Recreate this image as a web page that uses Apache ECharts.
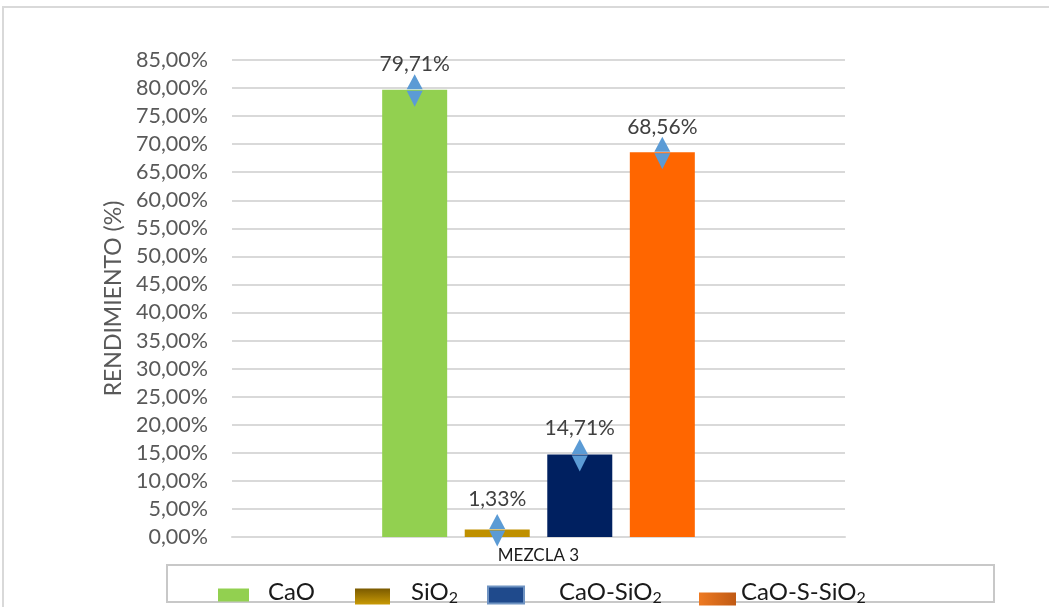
<!DOCTYPE html>
<html>
<head>
<meta charset="utf-8">
<script src="https://cdn.jsdelivr.net/npm/echarts@6/dist/echarts.min.js"></script>
<style>
  html, body { margin: 0; padding: 0; background: #ffffff; }
  #chart { width: 1049px; height: 607px; }
</style>
</head>
<body>
<div id="chart"></div>
<script>
// Rendimiento por fase, mezcla 3
const categories = ['MEZCLA 3'];
const seriesNames = ['CaO', 'SiO2', 'CaO-SiO2', 'CaO-S-SiO2'];
const valCaO = [79.71];
const valSiO2 = [1.33];
const valCaOSiO2 = [14.71];
const valCaOSSiO2 = [68.56];
const yTicks = { min: 0, max: 85, interval: 5 };

const seriesValues = [valCaO, valSiO2, valCaOSiO2, valCaOSSiO2];
const barColors = ['#92D050', '#BF9000', '#002060', '#FF6600'];
const labelDistance = [15, 20, 16, 15];
const legendIcons = [
  '#92D050',
  { type: 'linear', x: 0, y: 0, x2: 0, y2: 1, colorStops: [{ offset: 0, color: '#7A5A00' }, { offset: 1, color: '#C99A05' }] },
  '#1F4A8C',
  { type: 'linear', x: 0, y: 0, x2: 1, y2: 0, colorStops: [{ offset: 0, color: '#EE7A22' }, { offset: 1, color: '#C05A14' }] }
];
const FONT = 'Lato, "Open Sans", sans-serif';
const fmtPct = v => v.toFixed(2).replace('.', ',') + '%';

const chart = echarts.init(document.getElementById('chart'), null, { renderer: 'canvas' });

// Error-bar style arrow heads drawn at the top of each bar
const upArrow = 'path://M8,0 L16,15 L0,15 Z';
const downArrow = 'path://M0,0 L16,0 L8,16 Z';

const series = seriesNames.map((name, i) => ({
  name: name,
  type: 'bar',
  data: seriesValues[i],
  barWidth: 65,
  barGap: '27%',
  itemStyle: { color: barColors[i] },
  label: {
    show: true,
    position: 'top',
    distance: labelDistance[i],
    formatter: p => fmtPct(p.value),
    fontFamily: FONT,
    fontSize: 21,
    color: '#404040'
  },
  markPoint: {
    silent: true,
    label: { show: false },
    itemStyle: { color: '#5B9BD5' },
    data: [
      { type: 'max', symbol: upArrow, symbolSize: [16, 15], symbolOffset: [0, -8] },
      { type: 'max', symbol: downArrow, symbolSize: [16, 16], symbolOffset: [0, 9] }
    ]
  }
}));

// Legend items, each placed on its own along the bottom frame
const legendLeft = [218, 355, 487, 699];
const legendIconW = [31, 35, 36, 37];
const legendIconH = [13, 16, 17, 13];
const legendTextPad = [14, 16, 30, 0];
const legendTextLift = [6, 9, 6, 14];
const legends = seriesNames.map((name, i) => ({
  data: [{ name: name, itemStyle: { color: legendIcons[i], borderColor: i === 2 ? '#6F93C2' : 'transparent', borderWidth: i === 2 ? 2 : 0 } }],
  left: legendLeft[i],
  top: 580,
  padding: 0,
  icon: 'rect',
  itemWidth: legendIconW[i],
  itemHeight: legendIconH[i],
  selectedMode: false,
  formatter: n => n.endsWith('2') ? '{b|' + n.slice(0, -1) + '}{s|2}' : '{b|' + n + '}',
  textStyle: {
    padding: [0, 0, legendTextLift[i], legendTextPad[i]],
    rich: {
      b: { fontFamily: FONT, fontSize: 24, color: '#1A1A1A', lineHeight: 28 },
      s: { fontFamily: FONT, fontSize: 16, color: '#1A1A1A', lineHeight: 8, verticalAlign: 'bottom' }
    }
  }
}));

chart.setOption({
  animation: false,
  backgroundColor: '#ffffff',
  grid: { left: 232, right: 204, top: 60, bottom: 70 },
  xAxis: {
    type: 'category',
    data: categories,
    axisLine: { show: true, lineStyle: { color: '#D9D9D9', width: 2 } },
    axisTick: { show: false },
    axisLabel: { fontFamily: FONT, fontSize: 17, color: '#1A1A1A', margin: 10 }
  },
  yAxis: {
    type: 'value',
    min: yTicks.min,
    max: yTicks.max,
    interval: yTicks.interval,
    name: 'RENDIMIENTO (%)',
    nameLocation: 'middle',
    nameGap: 106,
    nameTextStyle: { fontFamily: FONT, fontSize: 23, color: '#595959' },
    axisLine: { show: false },
    axisTick: { show: false },
    axisLabel: { fontFamily: FONT, fontSize: 21.5, color: '#595959', margin: 24, formatter: v => fmtPct(v) },
    splitLine: { lineStyle: { color: '#D9D9D9', width: 2 } }
  },
  legend: legends,
  series: series,
  graphic: [
    { type: 'rect', z: -1, shape: { x: 3, y: 7, width: 1100, height: 700 }, style: { fill: null, stroke: '#D9D9D9', lineWidth: 2 } },
    { type: 'rect', z: -1, shape: { x: 167, y: 565, width: 827, height: 37 }, style: { fill: null, stroke: '#C8C8C8', lineWidth: 2 } }
  ]
});
</script>
</body>
</html>
